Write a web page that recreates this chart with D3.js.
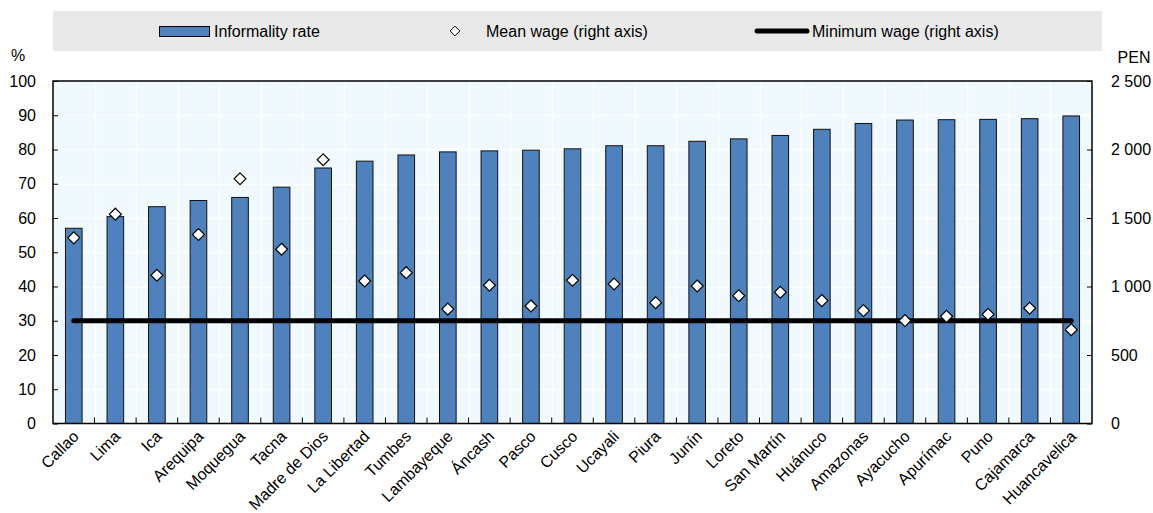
<!DOCTYPE html>
<html>
<head>
<meta charset="utf-8">
<script src="https://cdn.jsdelivr.net/npm/d3@7"></script>
<style>
  body { margin: 0; background: #ffffff; }
  svg text { font-family: "Liberation Sans Narrow", "Arial Narrow", "Liberation Sans", sans-serif; font-size: 16px; fill: #000; }
</style>
</head>
<body>
<div id="chart"></div>
<script>
// regiones
var regions = ["Callao","Lima","Ica","Arequipa","Moquegua","Tacna","Madre de Dios","La Libertad","Tumbes","Lambayeque","Áncash","Pasco","Cusco","Ucayali","Piura","Junín","Loreto","San Martín","Huánuco","Amazonas","Ayacucho","Apurímac","Puno","Cajamarca","Huancavelica"];
// Informality rate (%)
var informality = [57.0,60.4,63.3,65.1,66.0,69.0,74.6,76.6,78.4,79.3,79.6,79.8,80.2,81.1,81.1,82.4,83.1,84.1,85.9,87.6,88.6,88.7,88.8,89.0,89.8];
// Mean wage (PEN, right axis)
var meanWage = [1355,1528,1082,1379,1786,1272,1925,1040,1101,835,1009,858,1045,1018,882,1004,933,958,897,824,751,782,797,841,685];
// Minimum wage (PEN, right axis)
var minWage = 750;
var leftTicks = [0,10,20,30,40,50,60,70,80,90,100];
var rightTicks = [0,500,1000,1500,2000,2500];

var W = 1153, H = 513;
var margin = { top: 81, right: 61, bottom: 90, left: 53 };

var svg = d3.select("#chart").append("svg")
  .attr("width", W).attr("height", H);

var x = d3.scaleBand()
  .domain(regions)
  .range([margin.left, W - margin.right])
  .paddingInner(0.6)
  .paddingOuter(0.3);
var y = d3.scaleLinear().domain([0,100]).range([H - margin.bottom + 0.5, margin.top]);
var y2 = d3.scaleLinear().domain([0,2500]).range([H - margin.bottom + 0.5, margin.top]);

var x0 = margin.left, x1 = W - margin.right;
var gap = (x.step() - x.bandwidth()) / 2;
var diamond = d3.symbol(d3.symbolDiamond2, 90)();

// legend box
var lg = svg.append("g");
lg.append("rect").attr("x", 53).attr("y", 11).attr("width", 1049).attr("height", 40).attr("fill", "#e9e9e9");
lg.append("rect").attr("x", 159.5).attr("y", 26.5).attr("width", 50).attr("height", 10)
  .attr("fill", "#4f81bd").attr("stroke", "#000").attr("stroke-width", 1);
lg.append("text").attr("x", 214).attr("y", 31).attr("dy", "0.35em").text("Informality rate");
lg.append("path").attr("d", d3.symbol(d3.symbolDiamond2, 60)()).attr("transform", "translate(455,31)")
  .attr("fill", "#fff").attr("stroke", "#000").attr("stroke-width", 1);
lg.append("text").attr("x", 486).attr("y", 31).attr("dy", "0.35em").text("Mean wage (right axis)");
lg.append("line").attr("x1", 757).attr("x2", 807).attr("y1", 31).attr("y2", 31)
  .attr("stroke", "#000").attr("stroke-width", 5).attr("stroke-linecap", "round");
lg.append("text").attr("x", 812).attr("y", 31).attr("dy", "0.35em").text("Minimum wage (right axis)");

// plot background
svg.append("rect").attr("x", x0).attr("y", margin.top).attr("width", x1 - x0)
  .attr("height", y(0) - margin.top).attr("fill", "#f0fafe");

// gridlines
svg.append("g").selectAll("line").data(leftTicks.slice(1, -1)).join("line")
  .attr("x1", x0).attr("x2", x1)
  .attr("y1", d => Math.round(y(d)) + 0.5).attr("y2", d => Math.round(y(d)) + 0.5)
  .attr("stroke", "#fff").attr("stroke-width", 1.5);
svg.append("g").selectAll("line").data(regions.slice(1)).join("line")
  .attr("x1", d => Math.round(x(d) - gap) + 0.5).attr("x2", d => Math.round(x(d) - gap) + 0.5)
  .attr("y1", margin.top).attr("y2", y(0))
  .attr("stroke", "#fff").attr("stroke-width", 1.5);

// bars
svg.append("g").selectAll("rect").data(regions).join("rect")
  .attr("x", d => x(d)).attr("width", x.bandwidth())
  .attr("y", (d, i) => y(informality[i]))
  .attr("height", (d, i) => y(0) - y(informality[i]))
  .attr("fill", "#4f81bd").attr("stroke", "#111").attr("stroke-width", 1);

// minimum wage line
var line = d3.line().x(d => x(d) + x.bandwidth() / 2).y(() => y2(minWage));
svg.append("path").attr("d", line([regions[0], regions[regions.length - 1]]))
  .attr("fill", "none").attr("stroke", "#000").attr("stroke-width", 5).attr("stroke-linecap", "round");

// mean wage diamonds
svg.append("g").selectAll("path").data(regions).join("path")
  .attr("d", diamond)
  .attr("transform", (d, i) => "translate(" + (x(d) + x.bandwidth() / 2) + "," + y2(meanWage[i]) + ")")
  .attr("fill", "#fff").attr("stroke", "#000").attr("stroke-width", 1.2);

// frame
svg.append("rect").attr("x", x0).attr("y", margin.top).attr("width", x1 - x0)
  .attr("height", y(0) - margin.top).attr("fill", "none").attr("stroke", "#000").attr("stroke-width", 1.5);

// axes
var leftAxis = d3.axisRight(y).tickValues(leftTicks).tickSize(5).tickFormat("");
svg.append("g").attr("transform", "translate(" + x0 + ",0)").call(leftAxis)
  .call(g => g.select(".domain").remove());
svg.append("g").selectAll("text").data(leftTicks).join("text")
  .attr("x", 36).attr("y", d => y(d)).attr("dy", "0.35em").attr("text-anchor", "end").text(d => d);

var rightAxis = d3.axisLeft(y2).tickValues(rightTicks).tickSize(5).tickFormat("");
svg.append("g").attr("transform", "translate(" + x1 + ",0)").call(rightAxis)
  .call(g => g.select(".domain").remove());
var fmt = d => d3.format(",")(d).replace(/,/g, " ");
svg.append("g").selectAll("text").data(rightTicks).join("text")
  .attr("x", 1111).attr("y", d => y2(d)).attr("dy", "0.35em").attr("text-anchor", "start").text(fmt);

// bottom ticks at category boundaries
svg.append("g").selectAll("line").data(regions.slice(1)).join("line")
  .attr("x1", d => x(d) - gap).attr("x2", d => x(d) - gap)
  .attr("y1", y(0)).attr("y2", y(0) - 6)
  .attr("stroke", "#000").attr("stroke-width", 1);

// x labels
svg.append("g").selectAll("text").data(regions).join("text")
  .attr("transform", d => "translate(" + (x(d) + x.bandwidth() / 2 + 2) + "," + (y(0) + 10) + ") rotate(-45)")
  .attr("text-anchor", "end").attr("dy", "0.35em").text(d => d);

// axis units
svg.append("text").attr("x", 18).attr("y", 55).attr("dy", "0.35em").attr("text-anchor", "middle").text("%");
svg.append("text").attr("x", 1134).attr("y", 57).attr("dy", "0.35em").attr("text-anchor", "middle").text("PEN");
</script>
</body>
</html>
